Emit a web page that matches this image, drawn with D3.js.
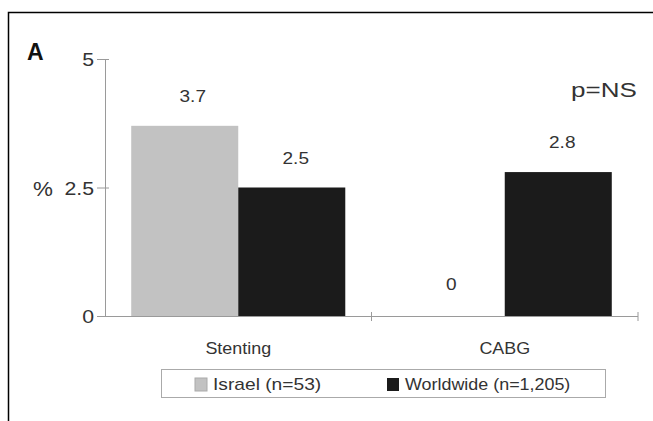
<!DOCTYPE html>
<html><head><meta charset="utf-8">
<script src="https://cdn.jsdelivr.net/npm/d3@7"></script>
<style>
html,body{margin:0;padding:0;background:#fff;}
svg{display:block;font-family:"Liberation Sans",Arial,sans-serif;}
</style></head>
<body><svg id="c" width="653" height="421"></svg>
<script>
const categories = ["Stenting", "CABG"];
const seriesNames = ["Israel (n=53)", "Worldwide (n=1,205)"];
const israel = [3.7, 0];
const worldwide = [2.5, 2.8];
const valueLabels = [["3.7", "0"], ["2.5", "2.8"]];
const yTicks = [0, 2.5, 5];
const yTickLabels = ["0", "2.5", "5"];
const colors = ["#c2c2c2", "#1b1b1b"];

const svg = d3.select("#c");
const sx = 1.12;
// frame
svg.append("path").attr("d","M8.5,421 V12.5 H653").attr("fill","none").attr("stroke","#000").attr("stroke-width",1.5);

const x0 = d3.scaleBand().domain(categories).range([105, 638]);
const x1 = d3.scaleBand().domain(seriesNames).range([0, x0.bandwidth()]).paddingOuter(0.245);
const y = d3.scaleLinear().domain([0, 5]).range([316, 59]);

const data = categories.map((c, i) => ({cat: c, vals: [israel[i], worldwide[i]]}));

// bars
const g = svg.append("g");
data.forEach((d, i) => {
  d.vals.forEach((v, j) => {
    const bx = x0(d.cat) + x1(seriesNames[j]);
    g.append("rect").attr("x", bx).attr("y", y(v)).attr("width", x1.bandwidth()).attr("height", y(0) - y(v))
      .attr("fill", colors[j]);
  });
});

// y axis
const axisColor = "#9a9a9a";
const yAxis = d3.axisLeft(y).tickValues(yTicks).tickFormat((d, i) => yTickLabels[i]).tickSize(8).tickPadding(4);
const ya = svg.append("g").attr("transform", "translate(105,0)").call(yAxis);
ya.select(".domain").attr("stroke", axisColor).attr("d", `M0.5,${y(5)}V${y(0)}`);
ya.selectAll(".tick line").attr("stroke", axisColor).attr("x1", 4);
ya.selectAll(".tick text").attr("fill", "#333").style("font-size", "19px").attr("dy", "0.36em")
  .each(function(){ const t=d3.select(this); t.attr("transform", `scale(${sx},1)`).attr("x", -11/sx); });

// x axis
const xa = svg.append("g").attr("transform", `translate(0,${y(0)})`);
xa.append("line").attr("x1", 105).attr("x2", 638).attr("y1", 0.5).attr("y2", 0.5).attr("stroke", axisColor);
[x0.range()[0] + x0.bandwidth(), x0.range()[1]].forEach(t => {
  xa.append("line").attr("x1", t).attr("x2", t).attr("y1", -4).attr("y2", 5).attr("stroke", axisColor);
});
categories.forEach(c => {
  xa.append("text").attr("transform", `translate(${x0(c) + x0.bandwidth()/2},38) scale(${sx},1)`)
    .attr("text-anchor", "middle").attr("fill", "#333").style("font-size", "16px").text(c);
});

// value labels
const offsets = [[[8, 0], [0, 0]], [[4, 0], [4, 0]]];
data.forEach((d, i) => {
  d.vals.forEach((v, j) => {
    const cx = x0(d.cat) + x1(seriesNames[j]) + x1.bandwidth()/2;
    let ty = v === 0 ? y(0) - 26 : y(v) - 24;
    svg.append("text").attr("transform", `translate(${cx + offsets[j][i][0]},${ty}) scale(${sx},1)`)
      .attr("text-anchor", "middle").attr("fill", "#333").style("font-size", "17px").text(valueLabels[j][i]);
  });
});

// % label
svg.append("text").attr("transform", `translate(33,${y(2.5)+8}) scale(${sx},1)`).attr("fill", "#333").style("font-size", "20px").text("%");
// A
svg.append("text").attr("x", 27).attr("y", 60).attr("font-weight", "bold").style("font-size", "23px").attr("fill", "#111").text("A");
// p=NS
svg.append("text").attr("transform", `translate(571,97) scale(1.3,1)`).attr("fill", "#333").style("font-size", "20px").text("p=NS");

// legend
const lg = svg.append("g");
lg.append("rect").attr("x", 161.5).attr("y", 369.5).attr("width", 444).attr("height", 28).attr("fill", "#fff").attr("stroke", "#aaa");
const legX = [195, 387];
seriesNames.forEach((s, j) => {
  lg.append("rect").attr("x", legX[j]).attr("y", 378).attr("width", 12).attr("height", 13).attr("fill", colors[j])
    .attr("stroke", j === 0 ? "#aaa" : "none");
  lg.append("text").attr("transform", `translate(${legX[j] + 18},390) scale(${j === 0 ? 1.2 : sx},1)`).attr("fill", "#333").style("font-size", "16px").text(s);
});
</script></body></html>
